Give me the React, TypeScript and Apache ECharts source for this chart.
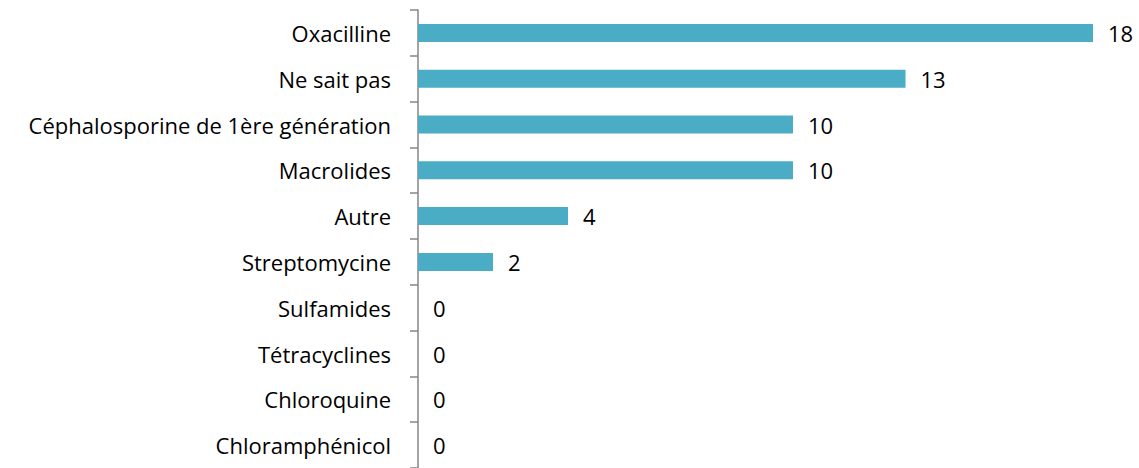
import React, { useEffect, useRef } from "react";
import * as echarts from "echarts";

const categories = [
  "Oxacilline",
  "Ne sait pas",
  "Céphalosporine de 1ère génération",
  "Macrolides",
  "Autre",
  "Streptomycine",
  "Sulfamides",
  "Tétracyclines",
  "Chloroquine",
  "Chloramphénicol",
];
const values = [18, 13, 10, 10, 4, 2, 0, 0, 0, 0];

export default function App() {
  const ref = useRef<HTMLDivElement>(null);
  useEffect(() => {
    if (!ref.current) return;
    const chart = echarts.init(ref.current, null, { renderer: "svg" });
    const font = "Open Sans";
    chart.setOption({
      animation: false,
      backgroundColor: "#ffffff",
      grid: { left: 418, top: 10, width: 675, height: 461, containLabel: false },
      xAxis: {
        type: "value",
        min: 0,
        max: 18,
        show: false,
      },
      yAxis: {
        type: "category",
        inverse: true,
        data: categories,
        axisLine: { show: true, lineStyle: { color: "#868686", width: 1.5 } },
        axisTick: { show: true, length: 8, lineStyle: { color: "#868686", width: 1.5 } },
        axisLabel: {
          color: "#000000",
          fontFamily: font,
          fontSize: 22,
          margin: 27,
        },
        splitLine: { show: false },
      },
      series: [
        {
          type: "bar",
          data: values,
          barWidth: 18,
          itemStyle: { color: "#4BACC6" },
          label: {
            show: true,
            position: "right",
            distance: 15,
            color: "#000000",
            fontFamily: font,
            fontSize: 22,
          },
        },
      ],
    });
    return () => chart.dispose();
  }, []);
  return (
    <div
      ref={ref}
      style={{ position: "fixed", left: 0, top: 0, width: 1139, height: 468 }}
    />
  );
}
